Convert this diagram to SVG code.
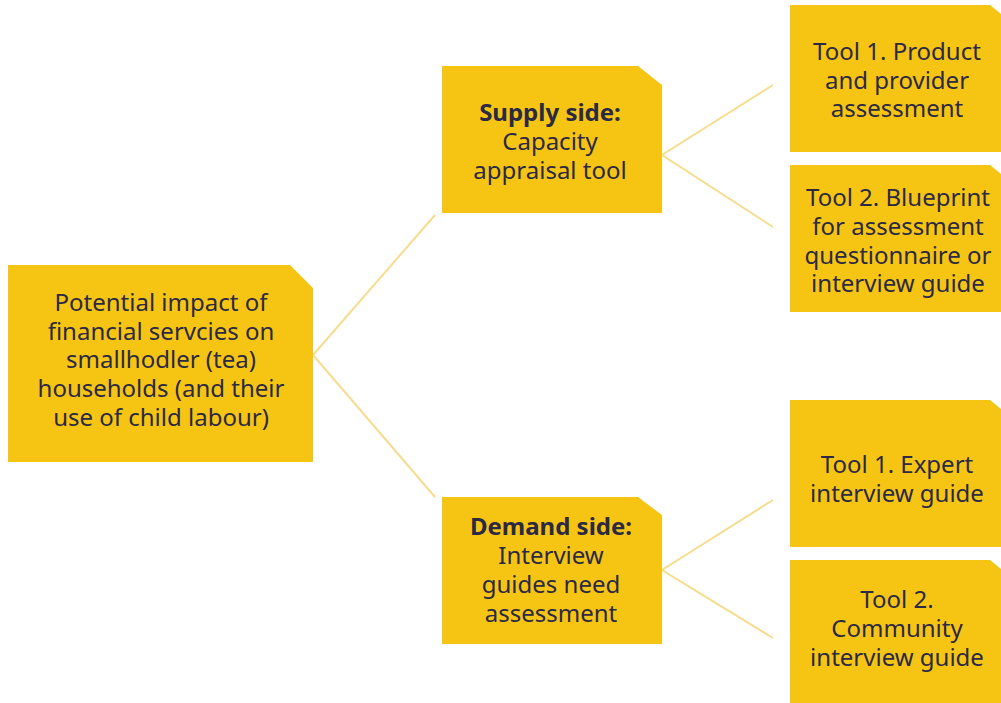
<svg xmlns="http://www.w3.org/2000/svg" width="1001" height="703" viewBox="0 0 1001 703">
  <style>
    .box { fill: #F6C514; }
    .label { font-family: "Noto Sans", "Open Sans", sans-serif; font-size: 24px; fill: #2C2945; text-anchor: middle; }
    .bold { font-weight: bold; }
    .link { stroke: #F7DC8E; stroke-width: 2; fill: none; }
  </style>
  <rect width="1001" height="703" fill="#FFFFFF"/>

  <g id="connectors">
    <polyline class="link" points="435,215 313,355 435,497"/>
    <polyline class="link" points="773,85 662,155 773,227"/>
    <polyline class="link" points="773,500 662,570 773,638"/>
  </g>

  <g id="root">
    <path class="box" d="M8,265 H290 L313,288 V462 H8 Z"/>
    <text class="label" x="161" y="311">Potential impact of</text>
    <text class="label" x="161" y="340">financial servcies on</text>
    <text class="label" x="161" y="368">smallhodler (tea)</text>
    <text class="label" x="161" y="397">households (and their</text>
    <text class="label" x="161" y="426">use of child labour)</text>
  </g>

  <g id="supply">
    <path class="box" d="M442,66 H638 L662,85 V213 H442 Z"/>
    <text class="label bold" x="550" y="121">Supply side:</text>
    <text class="label" x="550" y="150">Capacity</text>
    <text class="label" x="550" y="179">appraisal tool</text>
  </g>

  <g id="demand">
    <path class="box" d="M442,497 H638 L662,515 V644 H442 Z"/>
    <text class="label bold" x="551" y="535">Demand side:</text>
    <text class="label" x="551" y="564">Interview</text>
    <text class="label" x="551" y="593">guides need</text>
    <text class="label" x="551" y="622">assessment</text>
  </g>

  <g id="supply-tool-1">
    <path class="box" d="M790,5 H990 L1001,14 V152 H790 Z"/>
    <text class="label" x="897" y="60">Tool 1. Product</text>
    <text class="label" x="897" y="89">and provider</text>
    <text class="label" x="897" y="117">assessment</text>
  </g>

  <g id="supply-tool-2">
    <path class="box" d="M790,165 H990 L1001,174 V312 H790 Z"/>
    <text class="label" x="898" y="206">Tool 2. Blueprint</text>
    <text class="label" x="898" y="235">for assessment</text>
    <text class="label" x="898" y="264">questionnaire or</text>
    <text class="label" x="898" y="292">interview guide</text>
  </g>

  <g id="demand-tool-1">
    <path class="box" d="M790,400 H990 L1001,409 V547 H790 Z"/>
    <text class="label" x="897" y="473">Tool 1. Expert</text>
    <text class="label" x="897" y="502">interview guide</text>
  </g>

  <g id="demand-tool-2">
    <path class="box" d="M790,560 H990 L1001,569 V703 H790 Z"/>
    <text class="label" x="897" y="608">Tool 2.</text>
    <text class="label" x="897" y="637">Community</text>
    <text class="label" x="897" y="666">interview guide</text>
  </g>
</svg>
